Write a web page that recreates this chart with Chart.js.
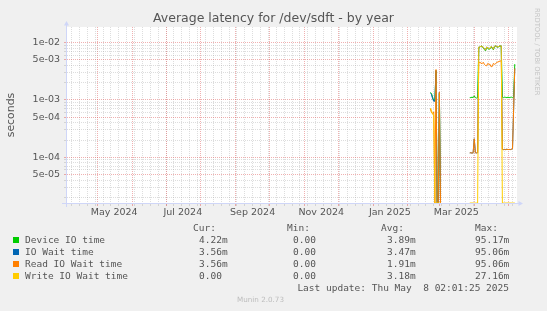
<!DOCTYPE html>
<html>
<head>
<meta charset="utf-8">
<script src="https://cdn.jsdelivr.net/npm/chart.js@4.4.1/dist/chart.umd.min.js"></script>
<style>
  html, body { margin: 0; padding: 0; background: #f0f0f0; }
  #wrap { position: relative; width: 547px; height: 311px; overflow: hidden; font-family: "DejaVu Sans", sans-serif; }
  #chart { position: absolute; left: 0; top: 0; }
  .t { position: absolute; white-space: pre; line-height: 12px; }
  .mono { font-family: "DejaVu Sans Mono", monospace; font-size: 9.5px; color: #555; }
  .box { position: absolute; width: 6px; height: 6px; }
</style>
</head>
<body>
<div id="wrap">
  <canvas id="chart" width="547" height="311"></canvas>
  <div id="overlay"></div>
</div>
<script>
// time window: 400 days ending at the last update
const DAY = 86400000;
const START = Date.UTC(2024, 3, 4);
const SPAN_DAYS = 400;

// days since START that carry data (333 is the gap after the first burst)
const dayOffsets = [
  323, 324, 325, 326, 327, 328, 329, 330, 331, 332, 333,
  358, 359, 360, 361, 362, 363, 364, 365,
  366, 367, 368, 369, 370, 371, 372, 373, 374, 375, 376, 377, 378, 379, 380, 381, 382, 383, 384, 385, 386,
  387, 388, 389, 390, 391, 392, 393, 394, 395, 396, 397, 398
];

const deviceIO = [
  1.35e-3, 1.30e-3, 1.10e-3, 1.00e-3, 9.8e-4, 3.2e-3, 0, 0, 1.30e-3, 0, null,
  1.10e-3, 1.10e-3, 1.12e-3, 1.10e-3, 1.18e-3, 1.10e-3, 1.08e-3, 1.10e-3,
  8.2e-3, 8.3e-3, 8.7e-3, 8.5e-3, 8.2e-3, 7.6e-3, 7.2e-3, 8.2e-3, 8.0e-3, 7.7e-3, 7.8e-3, 8.4e-3, 8.1e-3, 7.5e-3, 8.5e-3, 8.7e-3, 8.5e-3, 8.3e-3, 8.6e-3, 8.7e-3, 8.7e-3,
  1.12e-3, 1.10e-3, 1.12e-3, 1.11e-3, 1.10e-3, 1.12e-3, 1.10e-3, 1.11e-3, 1.12e-3, 1.10e-3, 1.12e-3, 4.22e-3
];
const ioWait = [
  1.30e-3, 1.25e-3, 1.05e-3, 9.5e-4, 9.5e-4, 3.3e-3, 0, 0, 1.36e-3, 0, null,
  1.19e-4, 1.20e-4, 1.18e-4, 1.20e-4, 2.10e-4, 1.20e-4, 1.19e-4, 1.20e-4,
  8.4e-3, 8.4e-3, 8.8e-3, 8.6e-3, 8.4e-3, 7.8e-3, 7.4e-3, 8.4e-3, 8.2e-3, 7.9e-3, 8.0e-3, 8.6e-3, 8.3e-3, 7.7e-3, 8.7e-3, 8.8e-3, 8.6e-3, 8.4e-3, 8.7e-3, 8.8e-3, 8.8e-3,
  1.38e-4, 1.36e-4, 1.37e-4, 1.36e-4, 1.38e-4, 1.36e-4, 1.37e-4, 1.36e-4, 1.38e-4, 1.40e-4, 7.0e-4, 3.56e-3
];
const readWait = [
  7.0e-4, 6.0e-4, 5.8e-4, 6.2e-4, 0, 3.4e-3, 0, 0, 1.36e-3, 0, null,
  1.19e-4, 1.20e-4, 1.18e-4, 1.20e-4, 2.10e-4, 1.20e-4, 1.19e-4, 1.20e-4,
  4.50e-3, 4.55e-3, 4.40e-3, 4.30e-3, 4.55e-3, 4.20e-3, 4.00e-3, 3.95e-3, 4.35e-3, 4.20e-3, 4.20e-3, 3.80e-3, 3.85e-3, 4.35e-3, 4.20e-3, 4.30e-3, 4.55e-3, 4.60e-3, 4.70e-3, 4.80e-3, 4.80e-3,
  1.38e-4, 1.36e-4, 1.37e-4, 1.36e-4, 1.38e-4, 1.36e-4, 1.37e-4, 1.36e-4, 1.38e-4, 1.40e-4, 7.0e-4, 3.56e-3
];
const writeWait = [
  7.2e-4, 6.5e-4, 5.6e-4, 5.5e-4, 0, 0, 0, 0, 0, 0, null,
  0, 0, 0, 0, 0, 0, 0, 0,
  8.4e-3, 8.4e-3, 8.8e-3, 8.6e-3, 8.4e-3, 7.8e-3, 7.4e-3, 8.4e-3, 8.2e-3, 7.9e-3, 8.0e-3, 8.6e-3, 8.3e-3, 7.7e-3, 8.7e-3, 8.8e-3, 8.6e-3, 8.4e-3, 8.7e-3, 8.8e-3, 8.8e-3,
  0, 0, 0, 0, 0, 0, 0, 0, 0, 0, 0, 0
];

const seriesNames = ["Device IO time", "IO Wait time", "Read IO Wait time", "Write IO Wait time"];
const seriesColors = ["#00cc00", "#0066b3", "#ff8000", "#ffcc00"];
const statCur = ["4.22m", "3.56m", "3.56m", "0.00"];
const statMin = ["0.00", "0.00", "0.00", "0.00"];
const statAvg = ["3.89m", "3.47m", "1.91m", "3.18m"];
const statMax = ["95.17m", "95.06m", "95.06m", "27.16m"];

const xTickLabels = ["May 2024", "Jul 2024", "Sep 2024", "Nov 2024", "Jan 2025", "Mar 2025"];
const yTickLabels = ["5e-05", "1e-04", "5e-04", "1e-03", "5e-03", "1e-02"];
const Y_MIN = 1.59e-5;
const Y_MAX = 1.88e-2;

const MONTHS = ["Jan", "Feb", "Mar", "Apr", "May", "Jun", "Jul", "Aug", "Sep", "Oct", "Nov", "Dec"];
const GRID = "rgba(150,150,150,0.32)";
const MGRID = "rgba(222,79,79,0.45)";
const AXIS = "#cfd6f8";

// x grid: Mondays (minor), month starts (major), labels half a month in
const END = START + SPAN_DAYS * DAY;
const xTicks = [];
let t = START;
while (new Date(t).getUTCDay() !== 1) t += DAY;
for (; t <= END; t += 7 * DAY) xTicks.push({ value: t, kind: "week" });
let sd = new Date(START);
let m = Date.UTC(sd.getUTCFullYear(), sd.getUTCMonth() + 1, 1);
while (m <= END) {
  xTicks.push({ value: m, kind: "month" });
  const md = new Date(m);
  m = Date.UTC(md.getUTCFullYear(), md.getUTCMonth() + 1, 1);
}
xTickLabels.forEach((lbl) => {
  const [mon, yr] = lbl.split(" ");
  xTicks.push({ value: Date.UTC(+yr, MONTHS.indexOf(mon), 1) + 15 * DAY, kind: "label", text: lbl });
});
xTicks.sort((a, b) => a.value - b.value);

// y grid: 1..9 per decade, labels on 1 and 5
const yMajor = yTickLabels.map(Number);
const yGrid = [];
for (let e = -5; e <= -2; e++) {
  for (let k = 1; k <= 9; k++) {
    const v = Number(k + "e" + e);
    if (v >= Y_MIN && v <= Y_MAX) yGrid.push(v);
  }
}
function yLabelIndex(v) {
  return yMajor.findIndex((mv) => Math.abs(v / mv - 1) < 1e-9);
}

// zero sits on the floor of the log axis, like rrdtool draws it
function toPoints(values) {
  return dayOffsets.map((d, i) => ({
    x: START + d * DAY,
    y: values[i] === null ? null : values[i] > 0 ? values[i] : Y_MIN,
  }));
}

const frame = {
  id: "frame",
  beforeDraw(chart) {
    const { ctx, chartArea: a } = chart;
    ctx.save();
    ctx.fillStyle = "#ffffff";
    ctx.fillRect(a.left, a.top, a.right - a.left, a.bottom - a.top);
    ctx.restore();
  },
  beforeDatasetsDraw(chart) {
    const { ctx, chartArea: a } = chart;
    const ax = a.left - 0.5;
    const ay = a.bottom + 0.5;
    ctx.save();
    ctx.strokeStyle = AXIS;
    ctx.fillStyle = AXIS;
    ctx.lineWidth = 1;
    ctx.beginPath();
    ctx.moveTo(ax, a.bottom + 4);
    ctx.lineTo(ax, a.top - 3);
    ctx.moveTo(a.left - 5, ay);
    ctx.lineTo(a.right + 2, ay);
    ctx.stroke();
    ctx.beginPath();
    ctx.moveTo(ax - 2.5, a.top - 1.5);
    ctx.lineTo(ax, a.top - 6);
    ctx.lineTo(ax + 2.5, a.top - 1.5);
    ctx.closePath();
    ctx.fill();
    ctx.beginPath();
    ctx.moveTo(a.right + 1.5, ay - 2.5);
    ctx.lineTo(a.right + 6, ay);
    ctx.lineTo(a.right + 1.5, ay + 2.5);
    ctx.closePath();
    ctx.fill();
    ctx.restore();
  },
};

const series = [deviceIO, ioWait, readWait, writeWait];
new Chart(document.getElementById("chart"), {
  type: "line",
  data: {
    datasets: series.map((vals, i) => ({
      label: seriesNames[i],
      data: toPoints(vals),
      borderColor: seriesColors[i],
      borderWidth: 1,
      pointRadius: 0,
      tension: 0,
      fill: false,
      spanGaps: false,
      order: series.length - 1 - i,
    })),
  },
  options: {
    responsive: false,
    animation: false,
    layout: { padding: { top: 27, right: 30, bottom: 0, left: 0 } },
    plugins: {
      legend: { display: false },
      tooltip: { enabled: false },
    },
    scales: {
      x: {
        type: "linear",
        min: START,
        max: END,
        afterBuildTicks: (scale) => {
          scale.ticks = xTicks.map((tk) => ({ value: tk.value }));
        },
        afterFit: (scale) => {
          scale.height = 108;
        },
        ticks: {
          autoSkip: false,
          maxRotation: 0,
          padding: 1,
          color: "#555",
          font: { family: "DejaVu Sans", size: 9.5 },
          callback: (v, i) => xTicks[i].text || "",
        },
        grid: {
          color: (ctx) => {
            const kind = xTicks[ctx.index] ? xTicks[ctx.index].kind : "label";
            if (kind === "label") return "rgba(0,0,0,0)";
            return kind === "month" ? MGRID : GRID;
          },
          lineWidth: 1,
          tickLength: 3,
        },
        border: { display: false, dash: [1, 1] },
      },
      y: {
        type: "logarithmic",
        min: Y_MIN,
        max: Y_MAX,
        afterBuildTicks: (scale) => {
          scale.ticks = yGrid.map((v) => ({ value: v }));
        },
        afterFit: (scale) => {
          scale.width = 67;
        },
        ticks: {
          autoSkip: false,
          padding: 4,
          color: "#555",
          font: { family: "DejaVu Sans", size: 9.5 },
          callback: (v) => {
            const k = yLabelIndex(v);
            return k >= 0 ? yTickLabels[k] : "";
          },
        },
        grid: {
          color: (ctx) => (ctx.tick && yLabelIndex(ctx.tick.value) >= 0 ? MGRID : GRID),
          lineWidth: 1,
          tickLength: 3,
        },
        border: { display: false, dash: [1, 1] },
        title: {
          display: true,
          text: "seconds",
          color: "#555",
          font: { family: "DejaVu Sans", size: 10.9 },
          padding: { top: 4.5, bottom: 0 },
        },
      },
    },
  },
  plugins: [frame],
});

// title, legend and footer text, rrdtool style
const overlay = document.getElementById("overlay");
function addText(text, css, cls) {
  const el = document.createElement("div");
  el.className = "t " + (cls || "");
  el.textContent = text;
  Object.assign(el.style, css);
  overlay.appendChild(el);
  return el;
}
addText("Average latency for /dev/sdft - by year", {
  left: "0px", width: "547px", textAlign: "center", top: "9px", lineHeight: "18px",
  fontSize: "12.5px", color: "#555",
});
addText("RRDTOOL / TOBI OETIKER", {
  left: "533px", top: "8px", writingMode: "vertical-rl", fontSize: "6.8px",
  lineHeight: "8px", color: "#c4c4c4",
});

const colCur = 199, colMin = 293, colAvg = 387, colMax = 475;
const headerY = 222;
addText("Cur:", { left: colCur - 6 + "px", top: headerY + "px" }, "mono");
addText("Min:", { left: colMin - 6 + "px", top: headerY + "px" }, "mono");
addText("Avg:", { left: colAvg - 6 + "px", top: headerY + "px" }, "mono");
addText("Max:", { left: colMax + "px", top: headerY + "px" }, "mono");
seriesNames.forEach((name, i) => {
  const top = 234 + i * 12;
  const box = document.createElement("div");
  box.className = "box";
  box.style.left = "13px";
  box.style.top = top + 3 + "px";
  box.style.background = seriesColors[i];
  overlay.appendChild(box);
  addText(name, { left: "25px", top: top + "px" }, "mono");
  addText(statCur[i], { left: colCur + "px", top: top + "px" }, "mono");
  addText(statMin[i], { left: colMin + "px", top: top + "px" }, "mono");
  addText(statAvg[i], { left: colAvg + "px", top: top + "px" }, "mono");
  addText(statMax[i], { left: colMax + "px", top: top + "px" }, "mono");
});
addText("Last update: Thu May  8 02:01:25 2025", { right: "38px", top: "282px" }, "mono");
addText("Munin 2.0.73", {
  left: "0px", width: "521px", textAlign: "center", top: "295px", lineHeight: "10px",
  fontSize: "7.2px", color: "#bdbdbd",
});
</script>
</body>
</html>
